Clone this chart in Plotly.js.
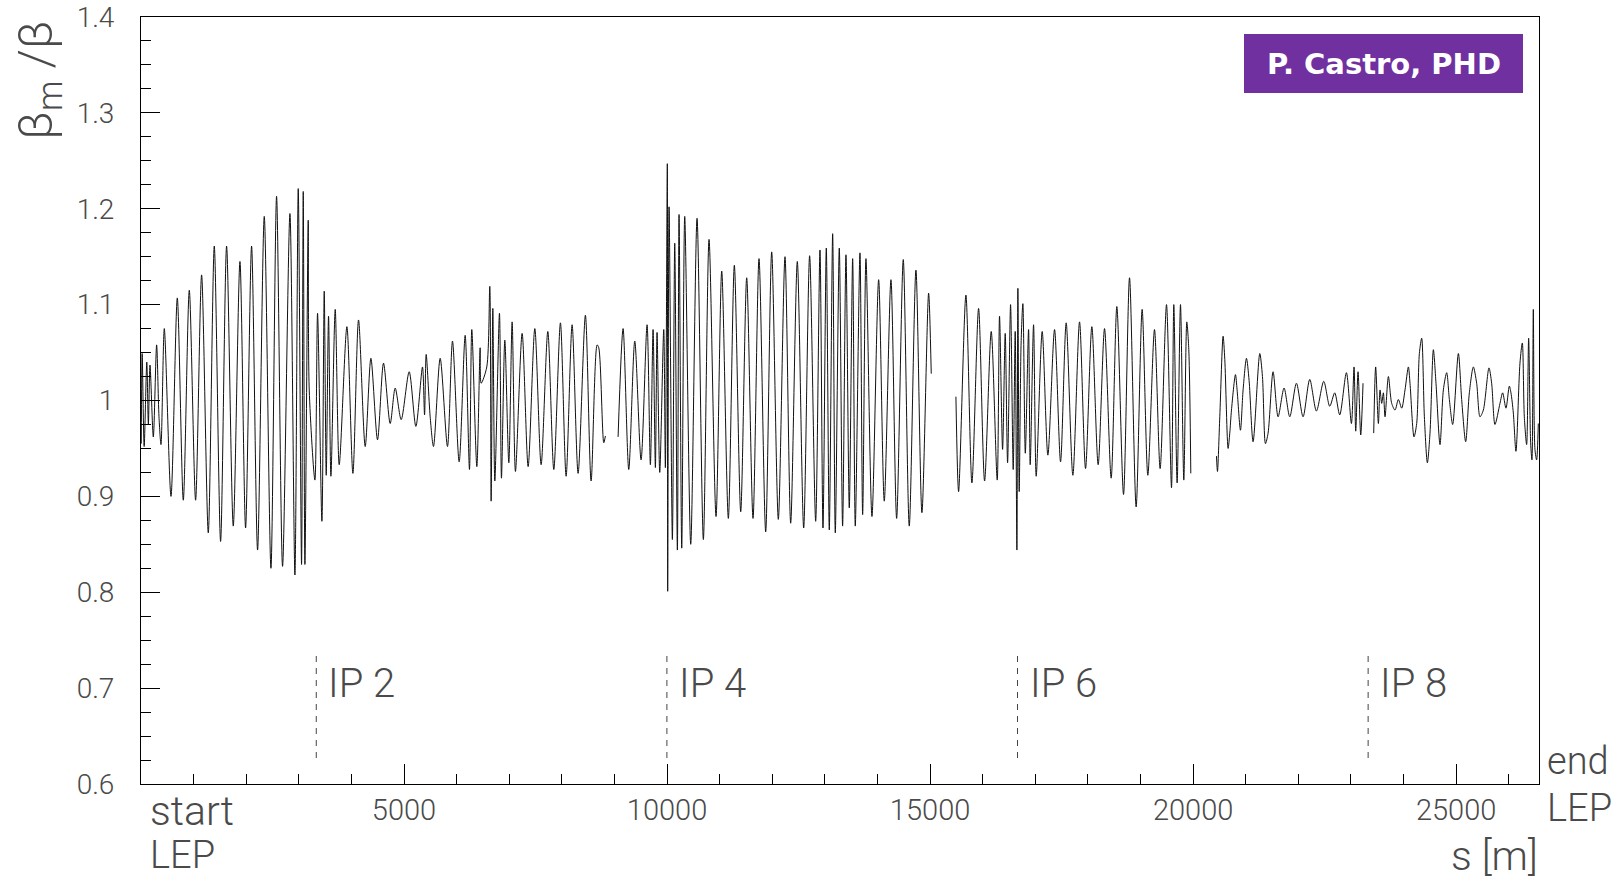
<!DOCTYPE html>
<html>
<head>
<meta charset="utf-8">
<script src="https://cdn.plot.ly/plotly-3.0.1.min.js"></script>
<style>
  html, body { margin: 0; padding: 0; background: #ffffff; }
  #chart { width: 1622px; height: 881px; }
</style>
</head>
<body>
<div id="chart"></div>
<script>
// Beta-beating along the LEP ring: measured over model beta, vs. longitudinal position s [m].
// null entries separate the measured stretches (no data in between).
const s_m = [
  5, 22, 60, 110, 140, 171, 234, 297, 342, 380, 443,
  570, 690, 804, 918, 1038, 1152, 1279, 1393, 1513, 1627, 1754, 1881, 1988, 2102, 2216,
  2343, 2470, 2577, 2691, 2831, 2926, 2989, 3052, 3084, 3116, 3179, 3198, 3306, 3356,
  3439, 3483, 3521, 3565, 3610, 3692, 3768, 3914, 4028, 4135, 4262, 4370, 4496, 4610,
  4737, 4832, 4946, 5098, 5225, 5351, 5390, 5421, 5497, 5560, 5687, 5826, 5921, 6048,
  6162, 6244, 6288, 6384, 6447, 6466, 6573, 6630, 6656, 6688, 6726, 6814, 6852, 6916,
  6992, 7055, 7118, 7245, 7359, 7486, 7606, 7733, 7847, 7973, 8081, 8195, 8309, 8448,
  8556, 8670, 8702, 8797, 8828,
  null,
  9069, 9164, 9272, 9386, 9506, 9620, 9683, 9734, 9778, 9810, 9861, 9937, 9968, 10005,
  10012, 10038, 10101, 10146, 10196, 10228, 10279, 10336, 10450, 10570, 10690, 10798,
  10931, 11039, 11165, 11279, 11400, 11514, 11634, 11748, 11875, 11989, 12115, 12242,
  12350, 12476, 12597, 12710, 12825, 12907, 12964, 13027, 13084, 13148, 13198, 13274,
  13337, 13401, 13464, 13528, 13578, 13667, 13718, 13781, 13895, 14022, 14129, 14256,
  14364, 14490, 14604, 14731, 14845, 14972, 15022,
  null,
  15491, 15542, 15681, 15795, 15922, 16036, 16162, 16276, 16320, 16378, 16428, 16473,
  16530, 16580, 16618, 16650, 16669, 16694, 16730, 16764, 16810, 16872, 16903, 16967,
  17017, 17131, 17239, 17366, 17480, 17587, 17714, 17841, 17955, 18075, 18195, 18316,
  18442, 18550, 18677, 18791, 18917, 19031, 19139, 19266, 19373, 19494, 19589, 19633,
  19696, 19760, 19823, 19880, 19918, 19956,
  null,
  20444, 20463, 20507, 20570, 20602, 20665, 20697, 20729, 20805, 20836, 20900, 20950,
  21014, 21064, 21140, 21267, 21318, 21375, 21425, 21520, 21615, 21729, 21837, 21964,
  22090, 22217, 22344, 22483, 22597, 22692, 22787, 22914, 23009, 23059, 23091, 23135,
  23186, 23230,
  null,
  23433, 23470, 23522, 23553, 23585, 23617, 23648, 23712, 23775, 23838, 23902, 23965,
  24028, 24092, 24123, 24199, 24250, 24301, 24345, 24396, 24453, 24503, 24567, 24617,
  24693, 24757, 24820, 24871, 24934, 25042, 25105, 25181, 25251, 25327, 25390, 25453,
  25517, 25624, 25675, 25738, 25833, 25884, 25947, 26011, 26042, 26087, 26137, 26213,
  26258, 26296, 26340, 26378, 26416, 26441, 26467, 26498, 26530, 26562
];

const beta_ratio = [
  0.955, 1.049, 0.952, 1.040, 0.975, 1.037, 0.962, 1.058, 0.983, 0.954, 1.075,
  0.900, 1.107, 0.896, 1.115, 0.896, 1.131, 0.862, 1.161, 0.853, 1.161, 0.869, 1.145, 0.867, 1.161, 0.844,
  1.192, 0.825, 1.213, 0.827, 1.195, 0.818, 1.221, 0.829, 1.218, 0.829, 1.188, 1.011, 0.917, 1.091,
  0.874, 1.114, 0.922, 1.088, 0.921, 1.095, 0.933, 1.077, 0.924, 1.084, 0.952, 1.044, 0.959, 1.039,
  0.976, 1.013, 0.980, 1.030, 0.973, 1.035, 0.985, 1.048, 0.983, 0.952, 1.044, 0.952, 1.062, 0.936,
  1.068, 0.928, 1.074, 0.931, 1.055, 1.018, 1.035, 1.119, 0.895, 1.096, 0.916, 1.091, 0.919, 1.063,
  0.935, 1.082, 0.926, 1.070, 0.931, 1.075, 0.933, 1.072, 0.928, 1.081, 0.921, 1.079, 0.924, 1.089,
  0.916, 1.058, 1.055, 0.956, 0.963,
  null,
  0.962, 1.075, 0.928, 1.062, 0.938, 1.079, 0.933, 1.074, 0.930, 1.071, 0.925, 1.074, 0.930, 1.247,
  0.801, 1.202, 0.855, 1.164, 0.844, 1.194, 0.846, 1.192, 0.850, 1.190, 0.855, 1.168,
  0.879, 1.135, 0.877, 1.141, 0.884, 1.128, 0.877, 1.148, 0.863, 1.155, 0.876, 1.150,
  0.872, 1.145, 0.867, 1.151, 0.874, 1.157, 0.867, 1.159, 0.865, 1.174, 0.862, 1.159,
  0.869, 1.152, 0.888, 1.148, 0.869, 1.154, 0.881, 1.148, 0.879, 1.126, 0.895, 1.126,
  0.877, 1.147, 0.869, 1.136, 0.883, 1.112, 1.028,
  null,
  1.004, 0.905, 1.110, 0.914, 1.096, 0.916, 1.072, 0.917, 1.088, 0.949, 1.070, 0.935,
  1.100, 0.928, 1.072, 0.844, 1.117, 0.905, 1.060, 1.101, 0.945, 1.074, 0.933, 1.079,
  0.921, 1.072, 0.943, 1.074, 0.936, 1.081, 0.922, 1.082, 0.929, 1.077, 0.933, 1.075,
  0.919, 1.098, 0.902, 1.128, 0.889, 1.095, 0.922, 1.074, 0.929, 1.100, 0.909, 1.100,
  0.914, 1.100, 0.917, 1.082, 1.053, 0.924,
  null,
  0.942, 0.926, 0.983, 1.067, 1.043, 0.950, 0.966, 0.990, 1.027, 1.011, 0.969, 1.011,
  1.044, 1.021, 0.957, 1.049, 1.025, 0.955, 0.966, 1.030, 0.983, 1.013, 0.983, 1.018,
  0.983, 1.022, 0.989, 1.020, 0.994, 1.008, 0.985, 1.029, 0.976, 1.035, 0.968, 1.030,
  0.964, 1.018,
  null,
  0.966, 1.035, 0.976, 1.011, 0.997, 1.008, 0.983, 1.025, 0.997, 0.990, 1.001, 0.992,
  1.011, 1.035, 1.018, 0.962, 0.976, 1.049, 1.065, 0.983, 0.935, 0.966, 1.053, 1.018,
  0.954, 1.011, 1.029, 1.001, 0.975, 1.049, 1.001, 0.957, 1.008, 1.035, 1.018, 0.983,
  0.990, 1.034, 1.018, 0.975, 0.997, 1.008, 0.992, 1.015, 1.008, 0.987, 0.947, 1.039,
  1.060, 0.983, 0.954, 1.065, 0.956, 0.938, 1.095, 0.949, 0.938, 0.976
];

// Interaction points (even IPs) along the ring
const ip_names = ['IP 2', 'IP 4', 'IP 6', 'IP 8'];
const ip_s = [3332, 9997, 16662, 23327];

// Axis labels
const x_tickvals = [5000, 10000, 15000, 20000, 25000];
const x_ticktext = ['5000', '10000', '15000', '20000', '25000'];
const y_tickvals = [0.6, 0.7, 0.8, 0.9, 1.0, 1.1, 1.2, 1.3, 1.4];
const y_ticktext = ['0.6', '0.7', '0.8', '0.9', '1', '1.1', '1.2', '1.3', '1.4'];

const W = 1622, H = 881;
const M = { l: 141, r: 83, t: 17, b: 97 };
const PW = W - M.l - M.r, PH = H - M.t - M.b;
// page pixel -> paper fraction helpers for the decorations
const fx = px => (px - M.l) / PW;
const fy = py => 1 - (py - M.t) / PH;

const FONT = "Roboto, 'DejaVu Sans', sans-serif";
const TXT = '#4a4a4a';

const trace = {
  x: s_m,
  y: beta_ratio,
  type: 'scatter',
  mode: 'lines',
  connectgaps: false,
  line: { color: '#111111', width: 1, shape: 'spline', smoothing: 0.8 },
  hoverinfo: 'x+y'
};

const shapes = ip_s.map(s => ({
  type: 'line', xref: 'x', yref: 'paper',
  x0: s, x1: s, y0: fy(758), y1: fy(654),
  line: { color: '#444444', width: 1, dash: '6px,6px' }
}));
shapes.push({
  type: 'rect', xref: 'paper', yref: 'paper',
  x0: fx(1244), x1: fx(1523), y0: fy(93), y1: fy(34),
  fillcolor: '#7030a0', line: { width: 0 }
});

const annotations = ip_names.map((name, i) => ({
  text: name, xref: 'x', yref: 'paper', x: ip_s[i], y: fy(683),
  xanchor: 'left', yanchor: 'middle', xshift: 10, showarrow: false,
  font: { family: FONT, size: 40, color: TXT, weight: 300 }
}));
const corner = (text, x, y, xa, size) => ({
  text, xref: 'paper', yref: 'paper', x: fx(x), y: fy(y),
  xanchor: xa, yanchor: 'middle', showarrow: false,
  font: { family: FONT, size, color: TXT, weight: 300 }
});
annotations.push(
  corner('start', 148, 811, 'left', 41),
  corner('LEP', 148, 855, 'left', 38),
  corner('end', 1545, 761, 'left', 38),
  corner('LEP', 1545, 808, 'left', 38),
  corner('s [m]', 1540, 856, 'right', 41),
  {
    text: 'β<sub>m</sub> /β', xref: 'paper', yref: 'paper',
    x: fx(38), y: fy(80), xanchor: 'center', yanchor: 'middle',
    textangle: -90, showarrow: false,
    font: { family: FONT, size: 49, color: TXT, weight: 300 }
  },
  {
    text: 'P. Castro, PHD', xref: 'paper', yref: 'paper',
    x: fx(1383.5), y: fy(63.5), xanchor: 'center', yanchor: 'middle',
    showarrow: false,
    font: { family: "'DejaVu Sans', sans-serif", size: 29, color: '#ffffff', weight: 'bold' }
  }
);

const layout = {
  width: W, height: H,
  margin: M,
  paper_bgcolor: '#ffffff',
  plot_bgcolor: '#ffffff',
  showlegend: false,
  xaxis: {
    range: [0, 26575],
    tickmode: 'array', tickvals: x_tickvals, ticktext: x_ticktext,
    ticks: 'inside', ticklen: 20, tickwidth: 1, tickcolor: '#000',
    minor: { tickmode: 'linear', tick0: 0, dtick: 1000, ticks: 'inside', ticklen: 10, tickwidth: 1, tickcolor: '#000' },
    showline: true, linecolor: '#000', linewidth: 1, mirror: true,
    showgrid: false, zeroline: false,
    tickfont: { family: FONT, size: 29, color: TXT, weight: 300 },
    ticklabelstandoff: 0
  },
  yaxis: {
    range: [0.6, 1.4],
    tickmode: 'array', tickvals: y_tickvals, ticktext: y_ticktext,
    ticks: 'inside', ticklen: 19, tickwidth: 1, tickcolor: '#000',
    minor: { tickmode: 'linear', tick0: 0.6, dtick: 0.025, ticks: 'inside', ticklen: 10, tickwidth: 1, tickcolor: '#000' },
    showline: true, linecolor: '#000', linewidth: 1, mirror: true,
    showgrid: false, zeroline: false,
    tickfont: { family: FONT, size: 28, color: TXT, weight: 300 },
    ticklabelstandoff: 20
  },
  shapes, annotations
};

Plotly.newPlot('chart', [trace], layout, { displayModeBar: false, staticPlot: true });
</script>
</body>
</html>
